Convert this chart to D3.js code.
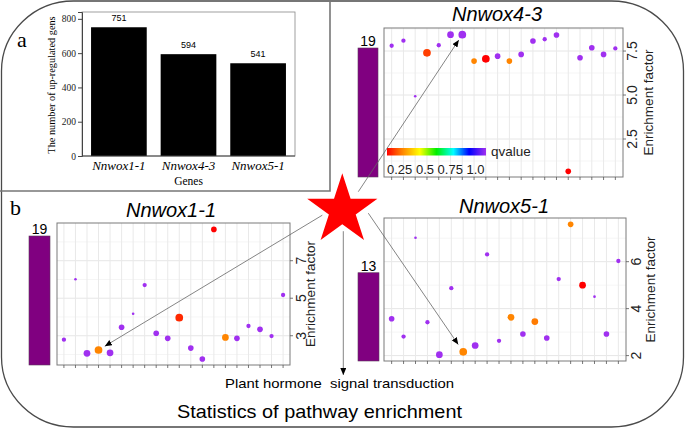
<!DOCTYPE html>
<html><head><meta charset="utf-8">
<script src="https://cdn.jsdelivr.net/npm/d3@7"></script>
<style>body{margin:0;background:#fff}svg{display:block}</style>
</head><body>
<svg id="c" width="685" height="429"></svg>
<script>
// ---------------- data ----------------
const genes = ["Nnwox1-1", "Nnwox4-3", "Nnwox5-1"];
const upRegulated = [751, 594, 541];
const barYTicks = [0, 200, 400, 600, 800];

const pathways = ["pw01","pw02","pw03","pw04","pw05","pw06","pw07","pw08","pw09","pw10",
                  "pw11","pw12","pw13","pw14","pw15","pw16","pw17","pw18","pw19","pw20"];

// Nnwox4-3
const ef43 = [7.80, 8.09, 4.93, 7.40, 7.83, 8.43, 8.43, 6.93, 7.06, 7.21,
              6.93, 7.31, 8.07, 8.17, 8.41, 0.66, 7.12, 7.69, 7.31, 7.65];
const q43  = [1.0, 1.0, 1.0, 0.23, 1.0, 1.0, 1.0, 0.30, 0.17, 1.0,
              0.30, 1.0, 1.0, 1.0, 1.0, 0.17, 1.0, 1.0, 1.0, 1.0];
const n43  = [2, 2, 1, 5, 2, 4, 5, 3, 5, 3, 3, 3, 3, 2, 3, 3, 3, 3, 3, 2];
const ticks43 = [2.5, 5.0, 7.5];
const minor43 = [1.25, 3.75, 6.25, 8.75];

// Nnwox1-1
const ef11 = [2.79, 6.01, 2.06, 2.24, 2.09, 3.45, 4.17, 5.70, 3.13, 2.86,
              3.96, 2.34, 1.76, 8.67, 2.91, 2.86, 3.52, 3.34, 2.98, 5.17];
const q11  = [1.0, 1.0, 1.0, 0.30, 1.0, 1.0, 1.0, 1.0, 1.0, 1.0,
              0.21, 1.0, 1.0, 0.17, 0.30, 1.0, 1.0, 1.0, 1.0, 1.0];
const n11  = [2, 1, 4, 5, 4, 3, 1, 2, 3, 3, 5, 3, 3, 3, 4, 3, 2, 3, 2, 2];
const ticks11 = [3, 5, 7];
const minor11 = [2, 4, 6, 8];

// Nnwox5-1
const ef51 = [3.57, 2.81, 7.02, 3.42, 2.04, 4.87, 2.16, 2.43, 6.31, 2.63,
              3.63, 2.92, 3.45, 2.75, 5.26, 7.59, 5.00, 4.51, 2.92, 6.03];
const q51  = [1.0, 1.0, 1.0, 1.0, 1.0, 1.0, 0.30, 1.0, 1.0, 1.0,
              0.30, 1.0, 0.29, 1.0, 1.0, 0.30, 0.17, 1.0, 1.0, 1.0];
const n51  = [3, 2, 1, 2, 4, 2, 5, 4, 2, 2, 4, 3, 4, 3, 2, 3, 4, 1, 3, 2];
const ticks51 = [2, 4, 6];
const minor51 = [3, 5, 7];

const pathwayTotals = [19, 19, 13];   // Nnwox1-1, Nnwox4-3, Nnwox5-1
const qLegendLabels = ["0.25", "0.5", "0.75", "1.0"];
const hormonePathway = "pw04";       // Plant hormone signal transduction (1-1)
const hormonePathway2 = "pw07";      // (4-3 and 5-1)

// ---------------- setup ----------------
const svg = d3.select("#c");
const SANS = "'Liberation Sans', Arial, sans-serif";
const SERIF = "'Liberation Serif', 'Times New Roman', serif";

const qStopsT = [0, 0.15, 0.33, 0.5, 0.67, 0.83, 1];
const qColors = ["#ff0000", "#ff8000", "#ffff00", "#00ee00", "#00ffff", "#0000ff", "#a030f0"];
const qMin = 0.17, qMax = 1.0;
const color = d3.scaleLinear().domain(qStopsT.map(t => qMin + t * (qMax - qMin))).range(qColors).clamp(true);
const rScale = d3.scaleSqrt().domain([1, 6]).range([1.3, 4.3]);
const barH = d3.scaleLinear().domain([0, 19]).range([0, 129]);

const defs = svg.append("defs");
defs.append("marker").attr("id", "ah").attr("markerUnits", "userSpaceOnUse")
  .attr("markerWidth", 8).attr("markerHeight", 6).attr("refX", 7).attr("refY", 3)
  .attr("orient", "auto")
  .append("path").attr("d", "M0,0 L7,3 L0,6 Z").attr("fill", "#000");

const grad = defs.append("linearGradient").attr("id", "qg");
qStopsT.forEach((t, i) => grad.append("stop").attr("offset", t).attr("stop-color", qColors[i]));

// ---------------- outer frame ----------------
svg.append("rect").attr("x", 1.5).attr("y", 1).attr("width", 682).attr("height", 426)
  .attr("rx", 72).attr("ry", 70).attr("fill", "none").attr("stroke", "#4a4a4a").attr("stroke-width", 1.3);

// panel a frame
svg.append("path").attr("d", "M0,191 H330 V0").attr("fill", "none")
  .attr("stroke", "#777").attr("stroke-width", 1.6);

// ---------------- panel a: bar chart ----------------
(function () {
  const L = 82, R = 295, T = 12, B = 156;
  const x = d3.scaleBand().domain(genes).range([L, R]).paddingInner(0.2).paddingOuter(0.13);
  const y = d3.scaleLinear().domain([0, 840]).range([B, T]);
  const g = svg.append("g");
  g.append("rect").attr("x", L).attr("y", T).attr("width", R - L).attr("height", B - T)
    .attr("fill", "none").attr("stroke", "#888").attr("stroke-width", 0.8);
  g.selectAll(".bar").data(genes).join("rect")
    .attr("x", d => x(d)).attr("width", x.bandwidth())
    .attr("y", (d, i) => y(upRegulated[i])).attr("height", (d, i) => B - y(upRegulated[i]))
    .attr("fill", "#000");
  g.selectAll(".val").data(genes).join("text")
    .attr("x", d => x(d) + x.bandwidth() / 2).attr("y", (d, i) => y(upRegulated[i]) - 6)
    .attr("text-anchor", "middle").attr("font-family", SANS).attr("font-size", 9)
    .text((d, i) => upRegulated[i]);
  const ay = g.append("g").attr("transform", `translate(${L},0)`)
    .call(d3.axisLeft(y).tickValues(barYTicks).tickSize(4).tickPadding(2));
  ay.select(".domain").attr("stroke", "#444");
  ay.selectAll(".tick line").attr("stroke", "#444");
  ay.selectAll("text").attr("font-family", SERIF).attr("font-size", 9.5).attr("fill", "#222");
  g.append("line").attr("x1", L).attr("x2", R).attr("y1", B).attr("y2", B).attr("stroke", "#444");
  g.selectAll(".cat").data(genes).join("text")
    .attr("x", d => x(d) + x.bandwidth() / 2).attr("y", 170)
    .attr("text-anchor", "middle").attr("font-family", SERIF).attr("font-style", "italic")
    .attr("font-size", 13).text(d => d);
  g.append("text").attr("x", (L + R) / 2).attr("y", 185).attr("text-anchor", "middle")
    .attr("font-family", SERIF).attr("font-size", 11.5).text("Genes");
  g.append("text").attr("transform", `translate(55,${(T + B) / 2 + 1}) rotate(-90)`)
    .attr("text-anchor", "middle").attr("font-family", SERIF).attr("font-size", 10.3)
    .text("The number of up-regulated gens");
  g.append("text").attr("x", 17).attr("y", 47).attr("font-family", SERIF).attr("font-size", 22).text("a");
})();

svg.append("text").attr("x", 10).attr("y", 215).attr("font-family", SERIF).attr("font-size", 22).text("b");

// ---------------- scatter panels ----------------
function scatter(cfg) {
  const g = svg.append("g");
  const x = d3.scalePoint().domain(pathways).range([cfg.L, cfg.R]).padding(cfg.pad);
  const y = d3.scaleLinear().domain(cfg.domain).range([cfg.B, cfg.T]);
  // grid
  g.selectAll(".mn").data(cfg.minor.filter(v => y(v) > cfg.T && y(v) < cfg.B)).join("line")
    .attr("x1", cfg.L).attr("x2", cfg.R).attr("y1", d => y(d)).attr("y2", d => y(d))
    .attr("stroke", "#f2f2f2").attr("stroke-width", 0.8);
  g.selectAll(".mj").data(cfg.ticks).join("line")
    .attr("x1", cfg.L).attr("x2", cfg.R).attr("y1", d => y(d)).attr("y2", d => y(d))
    .attr("stroke", "#e6e6e6").attr("stroke-width", 1);
  g.selectAll(".vg").data(pathways).join("line")
    .attr("x1", d => x(d)).attr("x2", d => x(d)).attr("y1", cfg.T).attr("y2", cfg.B)
    .attr("stroke", "#e9e9e9").attr("stroke-width", 1);
  g.append("rect").attr("x", cfg.L).attr("y", cfg.T).attr("width", cfg.R - cfg.L).attr("height", cfg.B - cfg.T)
    .attr("fill", "none").attr("stroke", "#7a7a7a").attr("stroke-width", 1);
  // ticks
  g.selectAll(".xt").data(pathways).join("line")
    .attr("x1", d => x(d)).attr("x2", d => x(d)).attr("y1", cfg.B).attr("y2", cfg.B + 3)
    .attr("stroke", "#555").attr("stroke-width", 0.8);
  g.selectAll(".yt").data(cfg.ticks).join("line")
    .attr("x1", cfg.R).attr("x2", cfg.R + 3).attr("y1", d => y(d)).attr("y2", d => y(d))
    .attr("stroke", "#555").attr("stroke-width", 0.8);
  g.selectAll(".yl").data(cfg.ticks).join("text")
    .attr("transform", d => `translate(${cfg.tickX},${y(d)}) rotate(-90)`)
    .attr("text-anchor", "middle").attr("font-family", SANS).attr("font-size", 14).attr("fill", "#222")
    .text(d => cfg.fmt(d));
  g.append("text").attr("transform", `translate(${cfg.efX},${(cfg.T + cfg.B) / 2}) rotate(-90)`)
    .attr("text-anchor", "middle").attr("font-family", SANS).attr("font-size", 13.5).attr("fill", "#222")
    .text("Enrichment factor");
  // points
  g.selectAll(".pt").data(pathways).join("circle")
    .attr("cx", d => x(d)).attr("cy", (d, i) => y(cfg.ef[i]))
    .attr("r", (d, i) => rScale(cfg.n[i])).attr("fill", (d, i) => color(cfg.q[i]));
  // title
  g.append("text").attr("x", cfg.titleX).attr("y", cfg.titleY).attr("text-anchor", "middle")
    .attr("font-family", SANS).attr("font-style", "italic").attr("font-size", 20).text(cfg.title);
  // total bar
  const h = barH(cfg.total);
  g.append("rect").attr("x", cfg.barX).attr("width", cfg.barW).attr("y", cfg.B - h).attr("height", h)
    .attr("fill", "#800080").attr("stroke", "#5a3a5a").attr("stroke-width", 0.6);
  g.append("text").attr("x", cfg.barX + cfg.barW / 2).attr("y", cfg.B - h - 2).attr("text-anchor", "middle")
    .attr("font-family", SANS).attr("font-size", 14).text(cfg.total);
  return { x, y };
}

const s43 = scatter({ L: 384, R: 623, T: 28, B: 177, pad: 0.65, domain: [0.34, 8.81],
  ticks: ticks43, minor: minor43, fmt: d3.format(".1f"), ef: ef43, q: q43, n: n43,
  tickX: 637, efX: 653, title: "Nnwox4-3", titleX: 497, titleY: 20.5,
  barX: 358, barW: 20, total: pathwayTotals[1] });
const s11 = scatter({ L: 57, R: 290, T: 223, B: 365, pad: 0.6, domain: [1.44, 9.01],
  ticks: ticks11, minor: minor11, fmt: d3.format("d"), ef: ef11, q: q11, n: n11,
  tickX: 305.5, efX: 315, title: "Nnwox1-1", titleX: 171, titleY: 217,
  barX: 29, barW: 21, total: pathwayTotals[0] });
const s51 = scatter({ L: 384, R: 626, T: 218, B: 361, pad: 0.64, domain: [1.77, 7.86],
  ticks: ticks51, minor: minor51, fmt: d3.format("d"), ef: ef51, q: q51, n: n51,
  tickX: 641, efX: 655, title: "Nnwox5-1", titleX: 504, titleY: 213,
  barX: 358, barW: 21, total: pathwayTotals[2] });

// ---------------- q-value legend (inside Nnwox4-3) ----------------
(function () {
  const lx0 = 387, lx1 = 486;
  svg.append("rect").attr("x", lx0).attr("y", 148).attr("width", lx1 - lx0).attr("height", 7.5)
    .attr("fill", "url(#qg)");
  svg.append("text").attr("x", 491).attr("y", 155.5).attr("font-family", SANS).attr("font-size", 13.5)
    .attr("fill", "#222").text("qvalue");
  svg.append("text").attr("x", lx0).attr("y", 174).attr("font-family", SANS).attr("font-size", 13)
    .attr("fill", "#222").text(qLegendLabels.join(" "));
})();

// ---------------- star and arrows ----------------
const sc = [342.3, 210.2], Ro = 36.9, Ri = 14.1;
const starPts = d3.range(10).map(k => {
  const r = k % 2 === 0 ? Ro : Ri, a = -Math.PI / 2 + k * Math.PI / 5;
  return [sc[0] + r * Math.cos(a), sc[1] + r * Math.sin(a)];
});

function arrowTo(start, px, py, rad, gap) {
  const dx = px - start[0], dy = py - start[1], len = Math.hypot(dx, dy);
  const ex = px - dx / len * (rad + gap), ey = py - dy / len * (rad + gap);
  svg.append("line").attr("x1", start[0]).attr("y1", start[1]).attr("x2", ex).attr("y2", ey)
    .attr("stroke", "#666").attr("stroke-width", 0.8).attr("marker-end", "url(#ah)");
}
const i11 = pathways.indexOf(hormonePathway), i2 = pathways.indexOf(hormonePathway2);
arrowTo([sc[0] + 16, sc[1] - 18.5], s43.x(hormonePathway2), s43.y(ef43[i2]), rScale(n43[i2]), 2.5);
arrowTo([sc[0] - 20, sc[1] + 5], s11.x(hormonePathway), s11.y(ef11[i11]), rScale(n11[i11]), 3.5);
arrowTo([sc[0] + 26, sc[1] + 3], s51.x(hormonePathway2), s51.y(ef51[i2]), rScale(n51[i2]), 5);
svg.append("line").attr("x1", sc[0] + 1).attr("y1", sc[1] + 21).attr("x2", sc[0] + 1).attr("y2", 375)
  .attr("stroke", "#666").attr("stroke-width", 0.8).attr("marker-end", "url(#ah)");

svg.append("polygon").attr("points", starPts.map(p => p.join(",")).join(" ")).attr("fill", "#ff0000");

// ---------------- bottom texts ----------------
svg.append("text").attr("x", 225).attr("y", 388).attr("font-family", SANS).attr("font-size", 13)
  .attr("textLength", 229).attr("lengthAdjust", "spacingAndGlyphs").attr("xml:space", "preserve")
  .style("white-space", "pre").text("Plant hormone  signal transduction");
svg.append("text").attr("x", 177).attr("y", 418).attr("font-family", SANS).attr("font-size", 19)
  .attr("textLength", 285).attr("lengthAdjust", "spacingAndGlyphs").text("Statistics of pathway enrichment");
</script>
</body></html>
